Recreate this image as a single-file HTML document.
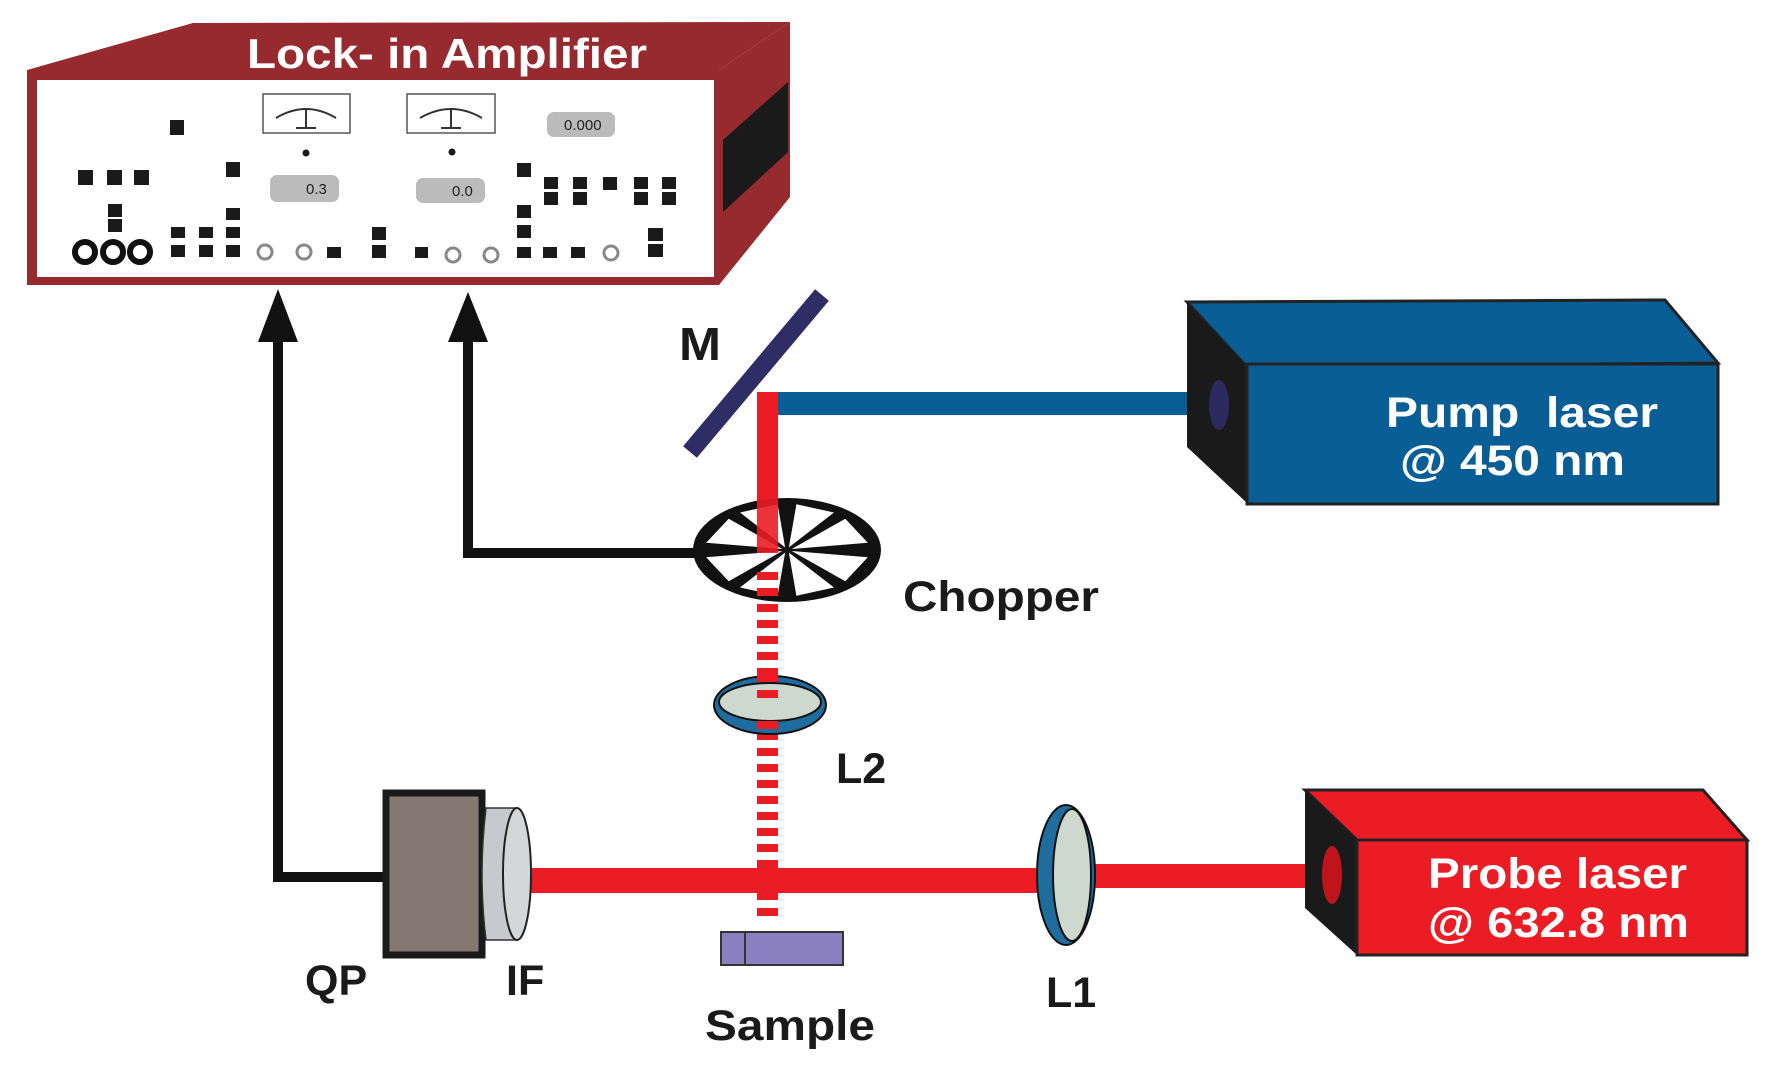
<!DOCTYPE html>
<html><head><meta charset="utf-8"><style>html,body{margin:0;padding:0;background:#fff}svg{display:block}text{font-family:"Liberation Sans",sans-serif;font-weight:bold}</style></head><body>
<svg width="1774" height="1076" viewBox="0 0 1774 1076" xmlns="http://www.w3.org/2000/svg">
<!-- Lock-in amplifier -->
<polygon points="193,23 790,22 719,70 27,70" fill="#962a2f"/>
<polygon points="719,70 790,22 790,197 719,285" fill="#962a2f"/>
<polygon points="723,140 788,82 788,152 723,212" fill="#1a1a1a"/>
<rect x="27" y="70" width="692" height="215" fill="#962a2f"/>
<rect x="37" y="80" width="677" height="197" fill="#fff"/>
<text x="247" y="68" font-size="42" fill="#fff" textLength="400" lengthAdjust="spacingAndGlyphs">Lock- in Amplifier</text>
<g fill="#1a1a1a">
<rect x="170" y="120" width="14" height="15"/>
<rect x="78" y="170" width="15" height="15"/><rect x="107" y="170" width="15" height="15"/><rect x="134" y="170" width="15" height="15"/>
<rect x="108" y="204" width="14" height="13"/><rect x="108" y="219" width="14" height="13"/>
<rect x="226" y="162" width="14" height="15"/>
<rect x="171" y="227" width="14" height="11"/><rect x="171" y="245" width="14" height="12"/>
<rect x="199" y="227" width="14" height="11"/><rect x="199" y="245" width="14" height="12"/>
<rect x="226" y="208" width="14" height="12"/><rect x="226" y="227" width="14" height="11"/><rect x="226" y="245" width="14" height="12"/>
<rect x="327" y="247" width="14" height="11"/>
<rect x="372" y="227" width="14" height="13"/><rect x="372" y="245" width="14" height="13"/>
<rect x="415" y="247" width="13" height="11"/>
<rect x="517" y="163" width="14" height="14"/><rect x="517" y="205" width="14" height="13"/><rect x="517" y="225" width="14" height="13"/><rect x="517" y="247" width="14" height="11"/>
<rect x="543" y="247" width="14" height="11"/><rect x="571" y="247" width="14" height="11"/>
<rect x="648" y="228" width="15" height="13"/><rect x="648" y="244" width="15" height="13"/>
<rect x="544" y="177" width="14" height="12"/><rect x="544" y="192" width="14" height="13"/>
<rect x="573" y="177" width="14" height="12"/><rect x="573" y="192" width="14" height="13"/>
<rect x="603" y="177" width="14" height="13"/>
<rect x="634" y="177" width="14" height="12"/><rect x="634" y="192" width="14" height="13"/>
<rect x="662" y="177" width="14" height="12"/><rect x="662" y="192" width="14" height="13"/>
<circle cx="306" cy="153" r="3.5"/><circle cx="452" cy="152" r="3.5"/>
</g>
<g fill="none" stroke="#111" stroke-width="6"><circle cx="85" cy="252" r="10"/><circle cx="113" cy="252" r="10"/><circle cx="140" cy="252" r="10"/></g>
<g fill="none" stroke="#888" stroke-width="3"><circle cx="265" cy="252" r="7"/><circle cx="304" cy="252" r="7"/><circle cx="453" cy="255" r="7"/><circle cx="491" cy="255" r="7"/><circle cx="611" cy="253" r="7"/></g>
<g stroke="#555" stroke-width="1.5" fill="#fff"><rect x="263" y="94" width="87" height="39"/><rect x="407" y="94" width="88" height="39"/></g>
<g stroke="#333" stroke-width="2" fill="none"><path d="M276,118 Q306,100 336,118"/><path d="M420,118 Q451,100 482,118"/><path d="M306,108 L306,128 M296,128 L316,128"/><path d="M451,108 L451,128 M441,128 L461,128"/></g>
<g fill="#bbb"><rect x="270" y="175" width="69" height="27" rx="7"/><rect x="416" y="178" width="69" height="25" rx="7"/><rect x="547" y="112" width="68" height="25" rx="7"/></g>
<g font-size="15" fill="#222" style="font-weight:normal"><text x="306" y="194" style="font-weight:normal">0.3</text><text x="452" y="196" style="font-weight:normal">0.0</text><text x="564" y="130" style="font-weight:normal">0.000</text></g>
<!-- signal lines -->
<g fill="none" stroke="#111" stroke-width="10"><polyline points="278,335 278,877 388,877"/><polyline points="468,335 468,553 695,553"/></g>
<polygon points="278,289 258,342 298,342" fill="#111"/>
<polygon points="468,292 448,342 488,342" fill="#111"/>
<!-- beams -->
<rect x="765" y="392" width="455" height="23" fill="#0a5e96"/>
<rect x="757" y="392" width="21" height="160" fill="#ec1c24"/>
<line x1="822" y1="295" x2="690" y2="452" stroke="#2f2d66" stroke-width="18"/>
<text x="679" y="360" font-size="46" fill="#1a1a1a" textLength="42" lengthAdjust="spacingAndGlyphs">M</text>
<!-- pump laser -->
<polygon points="1187,302 1665,300 1718,363 1247,367" fill="#0a5e96" stroke="#222" stroke-width="3"/>
<polygon points="1187,302 1247,367 1247,503 1187,447" fill="#1a1a1a"/>
<rect x="1247" y="364" width="471" height="140" fill="#0a5e96" stroke="#222" stroke-width="3"/>
<ellipse cx="1219" cy="405" rx="10" ry="25" fill="#2c2a5e"/>
<text x="1386" y="427" font-size="43" fill="#fff" textLength="272" lengthAdjust="spacingAndGlyphs" xml:space="preserve">Pump  laser</text>
<text x="1400" y="475" font-size="43" fill="#fff" textLength="225" lengthAdjust="spacingAndGlyphs">@ 450 nm</text>
<!-- chopper -->
<g transform="translate(787,550) scale(94,52)">
<ellipse cx="0" cy="0" rx="1" ry="1" fill="#111"/>
<g fill="#fff">
<polygon points="0.05,-0.02 0.86,-0.14 0.62,-0.6"/>
<polygon points="0.02,-0.05 0.5,-0.72 0.1,-0.88"/>
<polygon points="-0.02,-0.05 -0.1,-0.88 -0.5,-0.72"/>
<polygon points="-0.05,-0.02 -0.62,-0.6 -0.86,-0.14"/>
<polygon points="-0.05,0.02 -0.86,0.14 -0.62,0.6"/>
<polygon points="-0.02,0.05 -0.5,0.72 -0.1,0.88"/>
<polygon points="0.02,0.05 0.1,0.88 0.5,0.72"/>
<polygon points="0.05,0.02 0.62,0.6 0.86,0.14"/>
</g></g>
<rect x="757" y="498" width="21" height="55" fill="#ec1c24" opacity="0.9"/>
<text x="903" y="611" font-size="43" fill="#1a1a1a" textLength="196" lengthAdjust="spacingAndGlyphs">Chopper</text>
<!-- dashed beam -->
<line x1="767.5" y1="572" x2="767.5" y2="922" stroke="#ec1c24" stroke-width="21" stroke-dasharray="8,8"/>
<!-- L2 -->
<ellipse cx="770" cy="705" rx="56" ry="29" fill="#1f6d9e" stroke="#111" stroke-width="2"/>
<ellipse cx="770" cy="702" rx="51" ry="19" fill="#cdd9cf" stroke="#111" stroke-width="2"/>
<rect x="757" y="690" width="21" height="8" fill="#ec1c24"/>
<rect x="757" y="674" width="21" height="8" fill="#ec1c24"/>
<rect x="757" y="721" width="21" height="8" fill="#ec1c24"/>
<text x="836" y="783" font-size="43" fill="#1a1a1a">L2</text>
<!-- probe beam -->
<rect x="530" y="868" width="510" height="25" fill="#ec1c24"/>
<rect x="1075" y="864" width="260" height="24" fill="#ec1c24"/>
<rect x="757" y="868" width="21" height="25" fill="#ec1c24"/>
<!-- QP & IF -->
<rect x="386" y="793" width="96" height="162" fill="#857870" stroke="#1a1a1a" stroke-width="7"/>
<path d="M486,808 L517,808 L517,940 L486,940 Q478,874 486,808 Z" fill="#c8c9cc" stroke="#333" stroke-width="1.5"/>
<ellipse cx="517" cy="874" rx="14" ry="66" fill="#d5d6d8" stroke="#222" stroke-width="2"/>
<text x="305" y="995" font-size="43" fill="#1a1a1a">QP</text>
<text x="506" y="995" font-size="43" fill="#1a1a1a">IF</text>
<!-- Sample -->
<rect x="721" y="932" width="122" height="33" fill="#8a80c0" stroke="#333" stroke-width="2"/>
<line x1="745" y1="932" x2="745" y2="965" stroke="#333" stroke-width="2"/>
<text x="705" y="1040" font-size="43" fill="#1a1a1a" textLength="170" lengthAdjust="spacingAndGlyphs">Sample</text>
<!-- L1 -->
<ellipse cx="1066" cy="875" rx="29" ry="70" fill="#1f6d9e" stroke="#111" stroke-width="2"/>
<ellipse cx="1072" cy="875" rx="19" ry="66" fill="#cdd9cf" stroke="#111" stroke-width="2"/>
<text x="1046" y="1007" font-size="43" fill="#1a1a1a">L1</text>
<!-- probe laser -->
<polygon points="1305,790 1703,790 1747,840 1357,840" fill="#ec1c24" stroke="#222" stroke-width="3"/>
<polygon points="1305,790 1357,840 1357,955 1305,908" fill="#1a1a1a"/>
<rect x="1357" y="840" width="390" height="115" fill="#ec1c24" stroke="#222" stroke-width="3"/>
<ellipse cx="1332" cy="875" rx="10" ry="29" fill="#c0141b"/>
<text x="1428" y="888" font-size="43" fill="#fff" textLength="259" lengthAdjust="spacingAndGlyphs">Probe laser</text>
<text x="1428" y="937" font-size="43" fill="#fff" textLength="261" lengthAdjust="spacingAndGlyphs">@ 632.8 nm</text>
</svg>
</body></html>
